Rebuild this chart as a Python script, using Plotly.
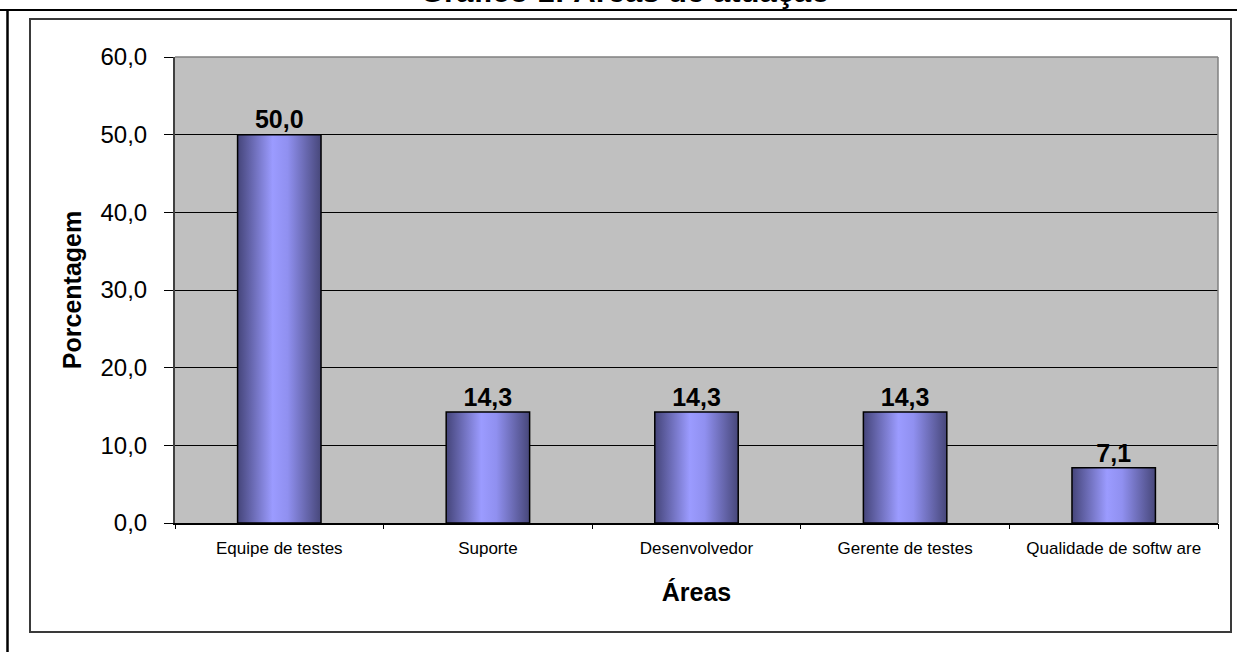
import plotly.graph_objects as go

# Chart data
categorias = ["Equipe de testes", "Suporte", "Desenvolvedor", "Gerente de testes", "Qualidade de softw are"]
porcentagens = [50.0, 14.3, 14.3, 14.3, 7.1]
y_ticks = [0, 10, 20, 30, 40, 50, 60]

FONT = "Liberation Sans, Arial, sans-serif"
W, H = 1245, 652
L, R, T, B = 175, 27, 57, 129
PW, PH = W - L - R, H - T - B


def px_x(p):
    return (p - L) / PW


def px_y(p):
    return (H - B - p) / PH


half = 0.2  # half bar width in category units
grad = [[0.0, "#45457a"], [0.42, "#9b9bff"], [0.6, "#9090f0"], [1.0, "#47477a"]]

fig = go.Figure()

# bars drawn as filled shapes so they can carry a horizontal gradient
for i, v in enumerate(porcentagens):
    fig.add_trace(go.Scatter(
        x=[i - half, i + half, i + half, i - half, i - half],
        y=[0, 0, v, v, 0],
        mode="lines", fill="toself",
        fillgradient=dict(type="horizontal", colorscale=grad),
        line=dict(color="black", width=1.5),
        hoverinfo="skip", showlegend=False,
    ))

# value labels
fig.add_trace(go.Scatter(
    x=list(range(len(categorias))), y=porcentagens,
    mode="text", text=porcentagens, texttemplate="%{y:.1f}",
    textposition="top center",
    textfont=dict(family=FONT, size=25, color="black", weight="bold"),
    xaxis="x2", showlegend=False, hoverinfo="skip",
))

fig.update_layout(
    width=W, height=H,
    margin=dict(l=L, r=R, t=T, b=B, autoexpand=False),
    paper_bgcolor="white", plot_bgcolor="#c0c0c0",
    separators=",.",
    font=dict(family=FONT, color="black"),
    xaxis=dict(
        range=[-0.5, len(categorias) - 0.5],
        tickvals=list(range(len(categorias))), ticktext=categorias,
        ticks="", showgrid=False, zeroline=False,
        showline=True, linecolor="black", linewidth=1.5,
        tickfont=dict(size=17, family=FONT),
        ticklabelstandoff=9,
        title=dict(text="<b>Áreas</b>", font=dict(size=25, family=FONT), standoff=26),
        fixedrange=True,
    ),
    xaxis2=dict(
        overlaying="x", side="bottom",
        range=[-0.5, len(categorias) - 0.5],
        tickvals=[k - 0.5 for k in range(len(categorias) + 1)],
        showticklabels=False, ticks="outside", ticklen=5, tickcolor="black",
        showgrid=False, zeroline=False, showline=False,
    ),
    yaxis=dict(
        range=[0, 60], tickvals=y_ticks, tickformat=".1f",
        ticks="outside", ticklen=9, tickcolor="black",
        showgrid=True, gridcolor="black", gridwidth=1,
        zeroline=False, showline=True, linecolor="#404040", linewidth=2,
        tickfont=dict(size=24, family=FONT),
        ticklabelstandoff=12,
        title=dict(text="<b>Porcentagem</b>", font=dict(size=25, family=FONT), standoff=12),
        fixedrange=True,
    ),
    annotations=[dict(
        text="<b>Gráfico 1: Áreas de atuação</b>",
        xref="paper", yref="paper", x=px_x(625), y=px_y(-9),
        xanchor="center", yanchor="middle", showarrow=False,
        font=dict(size=31, family=FONT, color="black"),
    )],
    shapes=[
        # plot frame: top and right edges
        dict(type="line", xref="paper", yref="paper", x0=0, x1=1, y0=1, y1=1,
             line=dict(color="#808080", width=1.5)),
        dict(type="line", xref="paper", yref="paper", x0=1, x1=1, y0=0, y1=1,
             line=dict(color="#808080", width=1.5)),
        # chart area border
        dict(type="rect", xref="paper", yref="paper",
             x0=px_x(30), x1=px_x(1231), y0=px_y(632), y1=px_y(19),
             line=dict(color="#3a3a3a", width=2), layer="below"),
        # page rules
        dict(type="line", xref="paper", yref="paper",
             x0=px_x(0), x1=px_x(1237), y0=px_y(10), y1=px_y(10),
             line=dict(color="black", width=2)),
        dict(type="line", xref="paper", yref="paper",
             x0=px_x(7.5), x1=px_x(7.5), y0=px_y(10), y1=px_y(660),
             line=dict(color="black", width=2.5)),
    ],
)

fig.write_html("out.html")
